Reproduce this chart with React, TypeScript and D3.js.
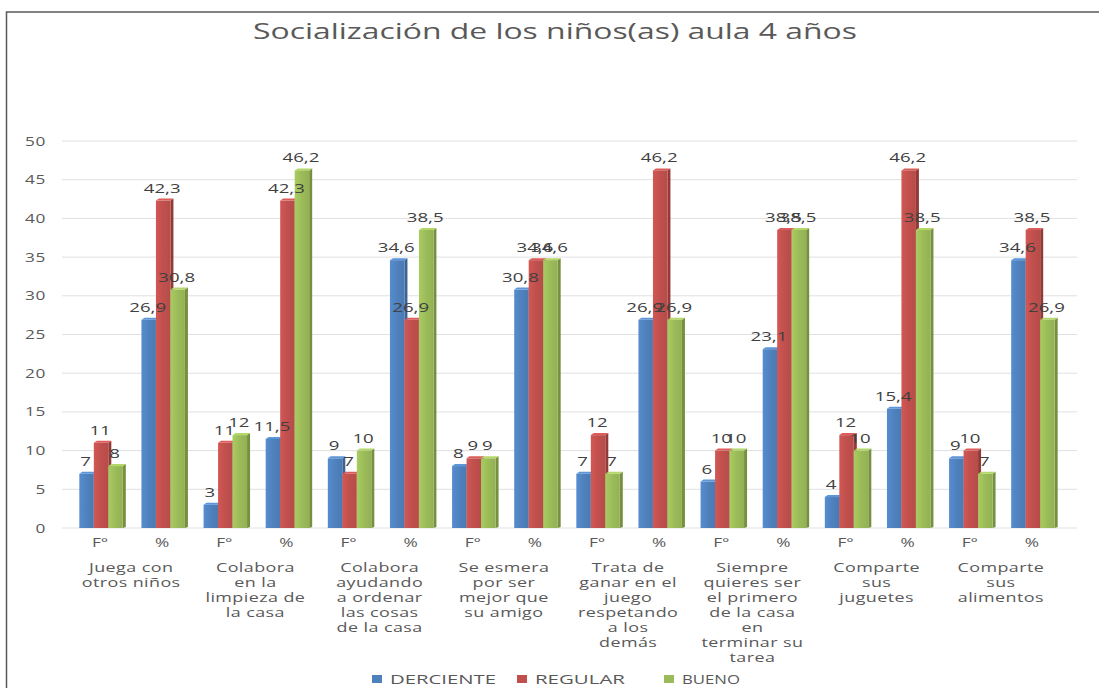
import * as d3 from "d3";

const width = 1099;
const height = 688;
const margin = { top: 140, right: 36, bottom: 160, left: 69 };

const title = "Socialización de los niños(as) aula 4 años";

const categories = [
  ["Juega con", "otros niños"],
  ["Colabora", "en la", "limpieza de", "la casa"],
  ["Colabora", "ayudando", "a ordenar", "las cosas", "de la casa"],
  ["Se esmera", "por ser", "mejor que", "su amigo"],
  ["Trata de", "ganar en el", "juego", "respetando", "a los", "demás"],
  ["Siempre", "quieres ser", "el primero", "de la casa", "en", "terminar su", "tarea"],
  ["Comparte", "sus", "juguetes"],
  ["Comparte", "sus", "alimentos"],
];
const subLabels = ["F°", "%"];

const seriesNames = ["DERCIENTE", "REGULAR", "BUENO"];
const seriesColors = ["#4f81bd", "#c0504d", "#9bbb59"];
const seriesDark = ["#3a6396", "#933a38", "#75903f"];

// values per category, F° then %
const deficiente = [7, 26.9, 3, 11.5, 9, 34.6, 8, 30.8, 7, 26.9, 6, 23.1, 4, 15.4, 9, 34.6];
const regular = [11, 42.3, 11, 42.3, 7, 26.9, 9, 34.6, 12, 46.2, 10, 38.5, 12, 46.2, 10, 38.5];
const bueno = [8, 30.8, 12, 46.2, 10, 38.5, 9, 34.6, 7, 26.9, 10, 38.5, 10, 38.5, 7, 26.9];
const seriesValues = [deficiente, regular, bueno];

const yTicks = [0, 5, 10, 15, 20, 25, 30, 35, 40, 45, 50];

const fontFamily = "'Open Sans', 'DejaVu Sans', sans-serif";
// the original picture is stretched sideways, so the texts are too
const stretch = 1.38;

function WideText({ x, y, anchor = "middle", size, fill, lines, lineHeight = 15, spacing = 0 }: {
  x: number; y: number; anchor?: string; size: number; fill: string; lines: string[]; lineHeight?: number; spacing?: number;
}) {
  return (
    <text transform={`translate(${x},${y}) scale(${stretch},1)`} textAnchor={anchor} fontSize={size} fill={fill} letterSpacing={spacing}>
      {lines.map((ln, i) => (
        <tspan key={i} x={0} dy={i === 0 ? 0 : lineHeight}>
          {ln}
        </tspan>
      ))}
    </text>
  );
}

export default function App() {
  const keys = categories.flatMap((_, i) => subLabels.map((s) => `${i}-${s}`));
  const x0 = d3.scaleBand<string>().domain(keys).range([margin.left, width - margin.right]).paddingInner(0.3).paddingOuter(0.15);
  const x1 = d3.scaleBand<number>().domain([0, 1, 2]).range([0, x0.bandwidth()]);
  const y = d3.scaleLinear().domain([0, 50]).range([528, margin.top + 1]);
  const depth = 3;
  const fmt = (v: number) => String(v).replace(".", ",");

  const legendItems = [
    { x: 372, w: 106 },
    { x: 517, w: 90 },
    { x: 664, w: 58 },
  ];

  return (
    <svg width={width} height={height} style={{ position: "absolute", left: 0, top: 0, background: "#fff" }} fontFamily={fontFamily}>
      <defs>
        {seriesColors.map((c, i) => (
          <linearGradient key={i} id={`g${i}`} x1="0" x2="1" y1="0" y2="0">
            <stop offset="0" stopColor={d3.color(c)!.brighter(0.25).formatHex()} />
            <stop offset="0.5" stopColor={c} />
            <stop offset="1" stopColor={d3.color(c)!.darker(0.15).formatHex()} />
          </linearGradient>
        ))}
      </defs>
      <rect x={0} y={0} width={width} height={height} fill="#fff" />
      <rect x={6.5} y={12} width={width + 10} height={height + 10} fill="none" stroke="#595959" strokeWidth={1.5} />

      <text x={555} y={39} textAnchor="middle" fontSize={21} fill="#595959" textLength={604} lengthAdjust="spacingAndGlyphs">
        {title}
      </text>

      {yTicks.map((t) => (
        <g key={t}>
          <line x1={62} x2={1077} y1={y(t)} y2={y(t)} stroke="#e0e0e0" strokeWidth={1} />
          <WideText x={46} y={y(t) + 4.5} anchor="end" size={12.5} fill="#595959" lines={[String(t)]} spacing={0.5} />
        </g>
      ))}

      {keys.map((key, ki) =>
        seriesValues.map((vals, si) => {
          const v = vals[ki];
          const bx = (x0(key) ?? 0) + (x1(si) ?? 0) + 1;
          const bw = x1.bandwidth();
          const top = y(v);
          const base = y(0);
          return (
            <g key={`${key}-${si}`}>
              <polygon
                points={`${bx + bw},${top} ${bx + bw + depth},${top - 2} ${bx + bw + depth},${base - 1} ${bx + bw},${base}`}
                fill={seriesDark[si]}
              />
              <polygon points={`${bx},${top} ${bx + depth},${top - 2} ${bx + bw + depth},${top - 2} ${bx + bw},${top}`} fill={d3.color(seriesColors[si])!.brighter(0.4).formatHex()} />
              <rect x={bx} y={top} width={bw} height={base - top} fill={`url(#g${si})`} />
            </g>
          );
        })
      )}

      {keys.map((key, ki) =>
        seriesValues.map((vals, si) => {
          const v = vals[ki];
          const cx = (x0(key) ?? 0) + (x1(si) ?? 0) + x1.bandwidth() / 2;
          return <WideText key={`l-${key}-${si}`} x={cx} y={y(v) - 8} size={13.5} fill="#404040" lines={[fmt(v)]} />;
        })
      )}

      {keys.map((key, ki) => (
        <WideText key={`t-${key}`} x={(x0(key) ?? 0) + x0.bandwidth() / 2} y={547} size={12.5} fill="#595959" lines={[subLabels[ki % 2]]} />
      ))}

      {categories.map((lines, ci) => {
        const a = x0(`${ci}-${subLabels[0]}`) ?? 0;
        const b = x0(`${ci}-${subLabels[1]}`) ?? 0;
        const cx = (a + b + x0.bandwidth()) / 2;
        return <WideText key={`c-${ci}`} x={cx} y={572} size={13} fill="#595959" lines={lines} spacing={0.3} />;
      })}

      {seriesNames.map((name, i) => (
        <g key={name}>
          <rect x={legendItems[i].x} y={675} width={10} height={8} fill={seriesColors[i]} />
          <text x={legendItems[i].x + 18} y={684} fontSize={13} fill="#595959" textLength={legendItems[i].w} lengthAdjust="spacingAndGlyphs">
            {name}
          </text>
        </g>
      ))}
    </svg>
  );
}
